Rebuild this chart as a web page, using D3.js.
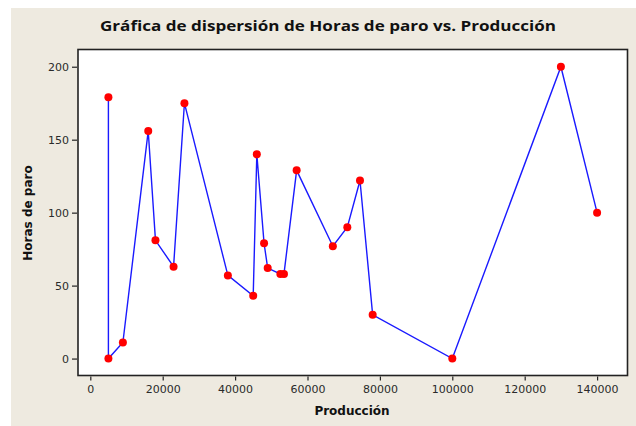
<!DOCTYPE html>
<html>
<head>
<meta charset="utf-8">
<script src="https://d3js.org/d3.v7.min.js"></script>
<style>
  body { margin: 0; background: #fff; }
</style>
</head>
<body>
<script>
'use strict';

// data
const produccion = [5000, 5000, 9000, 16000, 18000, 23000, 26000, 38000, 45000, 46000, 48000, 49000,
                    52500, 53500, 57000, 67000, 71000, 74500, 78000, 100000, 130000, 140000];
const horasParo  = [179, 0, 11, 156, 81, 63, 175, 57, 43, 140, 79, 62,
                    58, 58, 129, 77, 90, 122, 30, 0, 200, 100];
const xTicks = [0, 20000, 40000, 60000, 80000, 100000, 120000, 140000];
const yTicks = [0, 50, 100, 150, 200];

const titleText = "Gráfica de dispersión de Horas de paro vs. Producción";
const xLabel = "Producción";
const yLabel = "Horas de paro";

const width = 636, height = 426;
const box = { left: 78, top: 49.5, right: 627.5, bottom: 375.5 };

let svg = d3.select('body').append('svg')
  .attr('width', width)
  .attr('height', height);

// beige panel
svg.append('rect')
  .attr('x', 11).attr('y', 8)
  .attr('width', width - 11).attr('height', height - 8)
  .attr('fill', '#eeeae0');

// scales
let xScale = d3.scaleLinear().domain([-3400, 148400]).range([box.left, box.right]);
let yScale = d3.scaleLinear().domain([-11.6, 211.8]).range([box.bottom, box.top]);

// plot area
svg.append('rect')
  .attr('x', box.left).attr('y', box.top)
  .attr('width', box.right - box.left).attr('height', box.bottom - box.top)
  .attr('fill', '#fff')
  .attr('stroke', '#222')
  .attr('stroke-width', 1.6);

// axes
let xAxis = d3.axisBottom(xScale).tickValues(xTicks).tickSize(4).tickSizeOuter(0)
  .tickFormat(d3.format('d'));
let gx = svg.append('g')
  .attr('transform', `translate(0, ${box.bottom + 1})`)
  .call(xAxis);
gx.select('.domain').remove();

let yAxis = d3.axisLeft(yScale).tickValues(yTicks).tickSize(5).tickSizeOuter(0);
let gy = svg.append('g')
  .attr('transform', `translate(${box.left - 1}, 0)`)
  .call(yAxis);
gy.select('.domain').remove();

svg.selectAll('.tick line').attr('stroke', '#222').attr('stroke-width', 1.2);
svg.selectAll('.tick text')
  .style('font-family', 'Tahoma, "DejaVu Sans", sans-serif')
  .style('font-size', '11px')
  .attr('fill', '#2a2a2a');
gx.selectAll('.tick text').attr('dy', '0.9em');

// line + points
let pts = produccion.map((x, i) => ({ x: x, y: horasParo[i] }));
let line = d3.line().x(d => xScale(d.x)).y(d => yScale(d.y));

svg.append('path')
  .datum(pts)
  .attr('d', line)
  .attr('fill', 'none')
  .attr('stroke', '#1a1aff')
  .attr('stroke-width', 1.4);

svg.selectAll('.dot')
  .data(pts)
  .enter()
  .append('circle')
  .attr('class', 'dot')
  .attr('cx', d => xScale(d.x))
  .attr('cy', d => yScale(d.y))
  .attr('r', 4)
  .attr('fill', '#ff0000');

// title and labels
svg.append('text')
  .attr('x', 328).attr('y', 31)
  .attr('text-anchor', 'middle')
  .attr('textLength', 456)
  .attr('lengthAdjust', 'spacingAndGlyphs')
  .style('font-family', '"Open Sans", "Liberation Sans", sans-serif')
  .style('font-weight', 'bold')
  .style('font-size', '15px')
  .attr('fill', '#111')
  .text(titleText);

svg.append('text')
  .attr('x', 352).attr('y', 415)
  .attr('text-anchor', 'middle')
  .style('font-family', 'Tahoma, "DejaVu Sans", sans-serif')
  .style('font-weight', 'bold')
  .style('font-size', '12px')
  .attr('fill', '#111')
  .text(xLabel);

svg.append('text')
  .attr('transform', 'translate(32, 213) rotate(-90)')
  .attr('text-anchor', 'middle')
  .style('font-family', 'Tahoma, "DejaVu Sans", sans-serif')
  .style('font-weight', 'bold')
  .style('font-size', '12px')
  .attr('fill', '#111')
  .text(yLabel);
</script>
</body>
</html>
